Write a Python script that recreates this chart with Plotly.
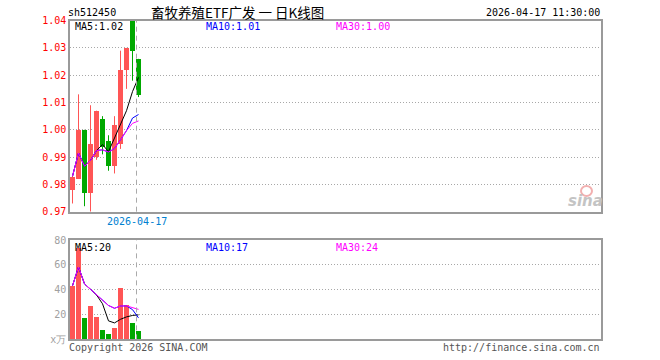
import pandas as pd
import plotly.graph_objects as go

# ---- data -------------------------------------------------------------
code = "sh512450"
title = "畜牧养殖ETF广发 一 日K线图"
stamp = "2026-04-17 11:30:00"
last_date = "2026-04-17"

opens = [0.978, 0.982, 1.000, 0.977, 0.990, 1.004, 0.996, 0.987, 0.995, 1.022, 1.040, 1.026]
highs = [0.983, 1.013, 1.000, 1.009, 1.007, 1.005, 0.998, 1.005, 1.029, 1.030, 1.040, 1.026]
lows = [0.973, 0.982, 0.972, 0.970, 0.989, 0.991, 0.985, 0.984, 0.993, 1.015, 1.018, 1.012]
closes = [0.983, 1.000, 0.977, 0.995, 1.007, 0.994, 0.987, 1.002, 1.022, 1.030, 1.029, 1.013]
volumes = [43.2, 73.3, 17.5, 26.7, 18.3, 7.5, 4.4, 9.3, 41.3, 28.0, 13.2, 6.9]  # 万手

price_ticks = [0.97, 0.98, 0.99, 1.00, 1.01, 1.02, 1.03, 1.04]
vol_ticks = [0, 20, 40, 60, 80]
vol_tick_text = ["x万", "20", "40", "60", "80"]

# ---- styling ----------------------------------------------------------
UP = "#ff5555"
DOWN = "#00a800"
MA_COLORS = {5: "#000000", 10: "#0000ff", 30: "#ff00ff"}
MONO = "DejaVu Sans Mono"
BOX = "#9a9a9a"
GRID = "#a8a8a8"

n = len(closes)
idx = list(range(n))
up = [c >= o for o, c in zip(opens, closes)]
colors = [UP if u else DOWN for u in up]

# moving averages (computed over whatever history is available)
close_s = pd.Series(closes)
vol_s = pd.Series(volumes)
price_ma = {w: close_s.rolling(w, min_periods=1).mean() for w in (5, 10, 30)}
vol_ma = {w: vol_s.rolling(w, min_periods=1).mean() for w in (5, 10, 30)}

fig = go.Figure()

# candle wicks, one trace per colour
for flag, col in ((True, UP), (False, DOWN)):
    wx, wy = [], []
    for i in idx:
        if up[i] == flag:
            wx += [i, i, None]
            wy += [lows[i], highs[i], None]
    fig.add_trace(go.Scatter(x=wx, y=wy, mode="lines", line=dict(color=col, width=1),
                             hoverinfo="skip", xaxis="x", yaxis="y"))

# candle bodies
fig.add_trace(go.Bar(
    x=idx,
    base=[min(o, c) for o, c in zip(opens, closes)],
    y=[max(abs(c - o), 0.0004) for o, c in zip(opens, closes)],
    width=5 / 6, marker=dict(color=colors, line=dict(width=0)),
    xaxis="x", yaxis="y"))

# price moving averages (MA30 drawn last so it sits on top)
for w in (5, 10, 30):
    fig.add_trace(go.Scatter(x=idx, y=price_ma[w], mode="lines",
                             line=dict(color=MA_COLORS[w], width=1),
                             xaxis="x", yaxis="y"))

# volume bars
fig.add_trace(go.Bar(x=idx, y=volumes, width=5 / 6,
                     marker=dict(color=colors, line=dict(width=0)),
                     xaxis="x2", yaxis="y2"))
for w in (5, 10, 30):
    fig.add_trace(go.Scatter(x=idx, y=vol_ma[w], mode="lines",
                             line=dict(color=MA_COLORS[w], width=1),
                             xaxis="x2", yaxis="y2"))

# ---- layout -----------------------------------------------------------
slot_px = 6.0
plot_w = 660 - 70 - 59
x0 = -2.5 / slot_px
x_range = [x0, x0 + plot_w / slot_px]
marker_x = (n - 1) - 1.0 / 3.0  # latest-day marker sits at the left of the last slot

axis_common = dict(showline=True, mirror=True, linecolor=BOX, linewidth=1.5,
                   zeroline=False, ticks="", fixedrange=True)

fig.update_layout(
    width=660, height=360,
    margin=dict(l=70, r=59, t=20, b=20),
    paper_bgcolor="white", plot_bgcolor="white",
    showlegend=False, barmode="overlay", bargap=0,
    xaxis=dict(domain=[0, 1], range=x_range, anchor="y", showgrid=False,
               showticklabels=False, **axis_common),
    yaxis=dict(domain=[0.401, 0.998], range=[price_ticks[0], price_ticks[-1]],
               anchor="x", tickvals=price_ticks,
               ticktext=[f"{v:.2f}" for v in price_ticks],
               tickfont=dict(family=MONO, size=10, color="#ff0000"),
               showgrid=True, gridcolor=GRID, gridwidth=1, griddash="1px,2px",
               **axis_common),
    xaxis2=dict(domain=[0, 1], range=x_range, anchor="y2", matches="x", showgrid=False,
                showticklabels=False, **axis_common),
    yaxis2=dict(domain=[0.002, 0.3125], range=[vol_ticks[0], vol_ticks[-1]],
                anchor="x2", tickvals=vol_ticks, ticktext=vol_tick_text,
                tickfont=dict(family=MONO, size=10, color="#a0a0a0"),
                showgrid=True, gridcolor=GRID, gridwidth=1, griddash="1px,2px",
                **axis_common),
)

# latest-day dashed markers in both panels
for xr, yr in (("x", "y domain"), ("x2", "y2 domain")):
    fig.add_shape(type="line", xref=xr, yref=yr, x0=marker_x, x1=marker_x, y0=0, y1=1,
                  line=dict(color="#aaaaaa", width=1, dash="5px,4px"), layer="above")


def px_x(p):
    return (p - 70) / plot_w


def px_y(p):
    return (340 - p) / 320


def note(text, x, y, color="#000000", size=10, family=MONO, xanchor="left", xref="paper"):
    fig.add_annotation(text=text, x=x, y=y, xref=xref, yref="paper", xanchor=xanchor,
                       yanchor="middle", showarrow=False, borderpad=0,
                       font=dict(family=family, size=size, color=color))


# header
note(code, px_x(67), px_y(13))
note(title, px_x(237), px_y(12), size=13.5, family="Noto Sans CJK SC", xanchor="center")
note(stamp, px_x(601), px_y(13), xanchor="right")

# price MA legend
note(f"MA5:{price_ma[5].iloc[-1]:.2f}", px_x(74), px_y(27), MA_COLORS[5])
note(f"MA10:{price_ma[10].iloc[-1]:.2f}", px_x(205), px_y(27), MA_COLORS[10])
note(f"MA30:{price_ma[30].iloc[-1]:.2f}", px_x(335), px_y(27), MA_COLORS[30])

# volume MA legend
note(f"MA5:{vol_ma[5].iloc[-1]:.0f}", px_x(74), px_y(247), MA_COLORS[5])
note(f"MA10:{vol_ma[10].iloc[-1]:.0f}", px_x(205), px_y(247), MA_COLORS[10])
note(f"MA30:{vol_ma[30].iloc[-1]:.0f}", px_x(335), px_y(247), MA_COLORS[30])

# date under the price panel
note(last_date, marker_x, px_y(221), "#0080d0", xanchor="center", xref="x")

# footer
note("Copyright 2026 SINA.COM", px_x(68), px_y(347), "#555555")
note("http://finance.sina.com.cn", px_x(601), px_y(347), "#555555", xanchor="right")

# watermark logo
fig.add_shape(type="circle", xref="paper", yref="paper",
              x0=px_x(581), x1=px_x(592), y0=px_y(196), y1=px_y(186),
              line=dict(color="#f2b0b0", width=2), fillcolor="rgba(0,0,0,0)")
note("<b><i>sina</i></b>", px_x(585), px_y(201), "#c4c4c4", size=15,
     family="DejaVu Sans", xanchor="center")

fig.write_html("out.html")
